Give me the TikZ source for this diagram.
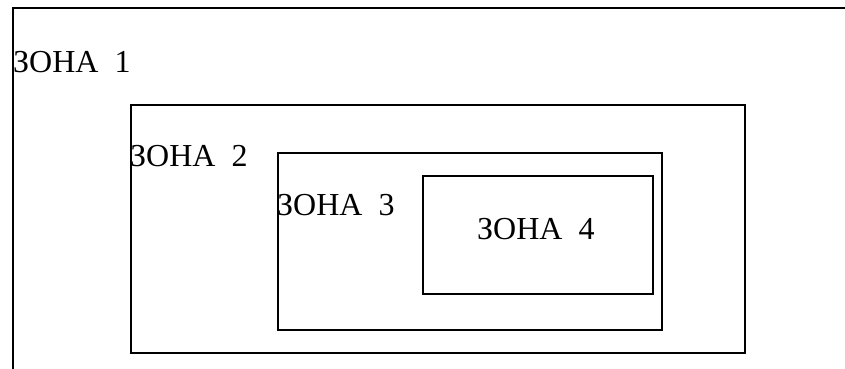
\documentclass[tikz,border=0pt]{standalone}
\usepackage{fontspec}
\setmainfont{Liberation Serif}
\begin{document}
\begin{tikzpicture}[x=1pt,y=-1pt,
  zonebox/.style={draw, line width=1.5pt, rectangle, inner sep=0pt, anchor=north west},
  zonelabel/.style={anchor=base west, inner sep=0pt, font=\fontsize{32}{38}\selectfont}]
  \useasboundingbox (0,0) rectangle (845,369);
  % outer zone: open frame along the left and top edges
  \coordinate (o1) at (13,369);
  \coordinate (o2) at (13,8);
  \coordinate (o3) at (845,8);
  \draw[line width=2pt] (o1) -- (o2) -- (o3);
  % nested zones
  \node[zonebox, minimum width=614pt, minimum height=248pt] (z2) at (130,104) {};
  \node[zonebox, minimum width=384pt, minimum height=177pt] (z3) at (277,152) {};
  \node[zonebox, minimum width=230pt, minimum height=118pt] (z4) at (422,175) {};
  % labels
  \node[zonelabel] (l1) at (13,73) {ЗОНА\ \ 1};
  \node[zonelabel] (l2) at (130,166) {ЗОНА\ \ 2};
  \node[zonelabel] (l3) at (277,215) {ЗОНА\ \ 3};
  \node[zonelabel] (l4) at (477,239) {ЗОНА\ \ 4};
\end{tikzpicture}
\end{document}
